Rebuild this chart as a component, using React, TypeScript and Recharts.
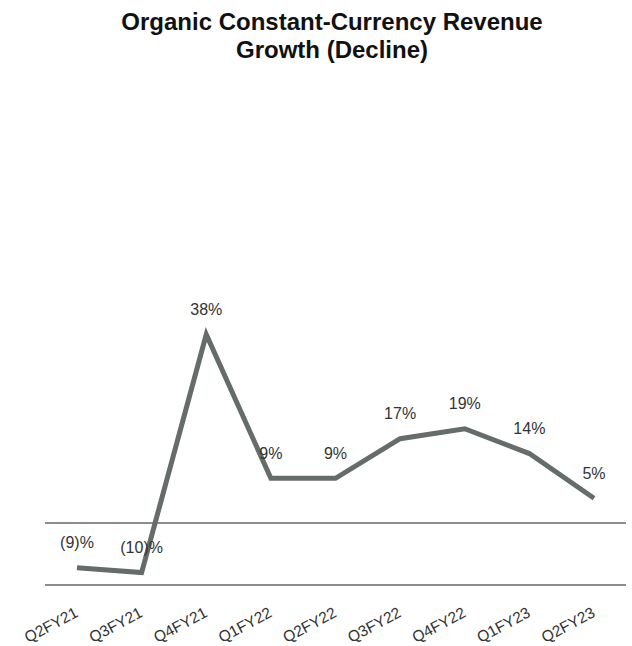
import { LineChart, Line, XAxis, YAxis, ReferenceLine, LabelList } from "recharts"

const quarters = ["Q2FY21", "Q3FY21", "Q4FY21", "Q1FY22", "Q2FY22", "Q3FY22", "Q4FY22", "Q1FY23", "Q2FY23"]
const growth = [-9, -10, 38, 9, 9, 17, 19, 14, 5]

const data = quarters.map((q, i) => ({ quarter: q, growth: growth[i] }))

const fmt = (v: number) => (v < 0 ? `(${Math.abs(v)})%` : `${v}%`)

function ValueLabel(props: any) {
  const { x, y, value } = props
  return (
    <text x={x} y={y - 25} textAnchor="middle" dominantBaseline="central" fontSize={16} fill="#333">
      {fmt(value)}
    </text>
  )
}

function QuarterTick(props: any) {
  const { x, y, payload } = props
  const px = x + 2
  const py = y + 23
  return (
    <text x={px} y={py} textAnchor="end" fontSize={15.5} fill="#333" transform={`rotate(-28, ${px}, ${py})`}>
      {payload.value}
    </text>
  )
}

export default function App() {
  return (
    <div style={{ position: "absolute", left: 0, top: 0, width: 632, height: 646, background: "#fff", fontFamily: "'Liberation Sans', Arial, sans-serif" }}>
      <div style={{ position: "absolute", left: 0, top: 8, width: 664, textAlign: "center", fontSize: 24, fontWeight: "bold", lineHeight: "28px", color: "#111" }}>
        Organic Constant-Currency Revenue
        <br />
        Growth (Decline)
      </div>
      <LineChart width={632} height={646} data={data} margin={{ top: 275, right: 6, left: 45, bottom: 0 }}>
        <XAxis
          dataKey="quarter"
          height={61}
          padding={{ left: 32, right: 32 }}
          axisLine={{ stroke: "#8c8c8c", strokeWidth: 2 }}
          tickLine={false}
          interval={0}
          tick={<QuarterTick />}
        />
        <YAxis hide domain={[-12.5, 50]} />
        <ReferenceLine y={0} stroke="#8c8c8c" strokeWidth={2} />
        <Line
          type="linear"
          dataKey="growth"
          stroke="#656c69"
          strokeWidth={5}
          dot={false}
          isAnimationActive={false}
        >
          <LabelList dataKey="growth" content={<ValueLabel />} />
        </Line>
      </LineChart>
    </div>
  )
}
